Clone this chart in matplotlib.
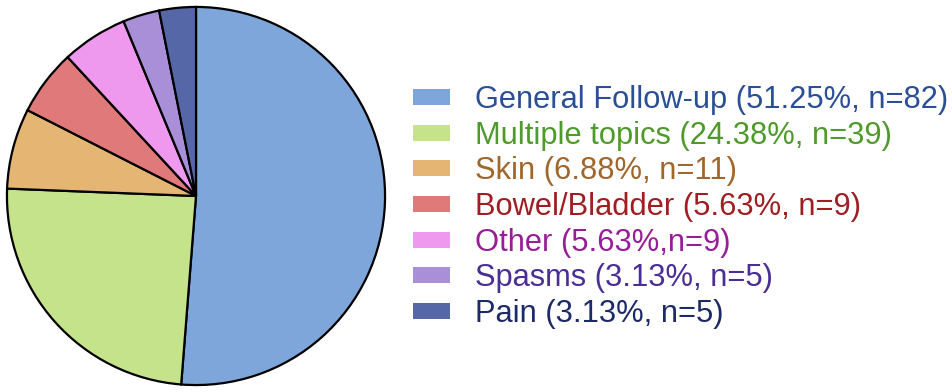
import matplotlib.pyplot as plt

labels = ['General Follow-up (51.25%, n=82)', 'Multiple topics (24.38%, n=39)',
          'Skin (6.88%, n=11)', 'Bowel/Bladder (5.63%, n=9)', 'Other (5.63%,n=9)',
          'Spasms (3.13%, n=5)', 'Pain (3.13%, n=5)']
counts = [82, 39, 11, 9, 9, 5, 5]
colors = ['#7ea6da', '#c5e38a', '#e5b573', '#e07a7a', '#ee98ee', '#a88fd8', '#5567a6']
text_colors = ['#2b4f96', '#4e9a2a', '#a0662a', '#a01e22', '#961e96', '#4a2e96', '#1c2a6a']

plt.rcParams['font.family'] = ['Liberation Sans', 'DejaVu Sans']

fig = plt.figure(figsize=(9.53, 3.92), dpi=100)
ax = fig.add_axes([6/953, 6/392, 380/953, 380/392])
wedges, _ = ax.pie(counts, colors=colors, startangle=90, counterclock=False,
                   wedgeprops=dict(edgecolor='black', linewidth=1.6))
ax.set_xlim(-1.005, 1.005)
ax.set_ylim(-1.005, 1.005)
ax.set_aspect('equal')

fig.legend(wedges, labels, loc='center left', bbox_to_anchor=(413/953, 185/392),
           frameon=False, fontsize=22.2, labelcolor=text_colors,
           handlelength=1.2, handleheight=0.42, handletextpad=0.81,
           labelspacing=0.18, borderpad=0, borderaxespad=0)
for h in fig.legends[0].legend_handles:
    h.set_edgecolor('none')

fig.savefig('out.png', dpi=100)
